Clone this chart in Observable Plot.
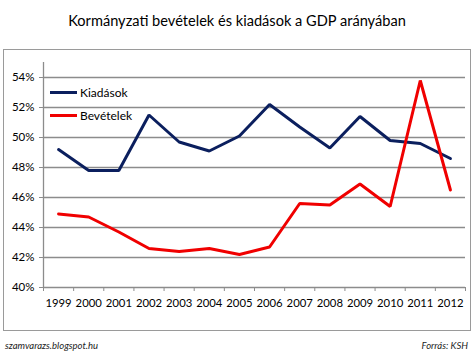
<!DOCTYPE html>
<html>
<head>
<meta charset="utf-8">
<script src="https://cdn.jsdelivr.net/npm/d3@7"></script>
<script src="https://cdn.jsdelivr.net/npm/@observablehq/plot@0.6"></script>
<style>
  html, body { margin: 0; padding: 0; background: #fff; }
  #wrap { position: relative; width: 474px; height: 355px; background: #fff; font-family: Lato, "Open Sans", sans-serif; overflow: hidden; }
  #title { position: absolute; left: 0; top: 12px; width: 474px; text-align: center; font-size: 14.6px; color: #000; }
  #frame { position: absolute; left: 3px; top: 49px; width: 466px; height: 280px; border: 1px solid #9a9a9a; }
  #chart { position: absolute; left: 0; top: 0; }
  .leg { position: absolute; font-size: 12px; color: #000; display: flex; align-items: center; }
  .leg span.sw { display: inline-block; width: 27px; height: 3px; margin-right: 3px; }
  .foot { position: absolute; top: 340px; font-size: 9.5px; font-style: italic; color: #222; }
</style>
</head>
<body>
<div id="wrap">
  <div id="title">Kormányzati bevételek és kiadások a GDP arányában</div>
  <div id="frame"></div>
  <div id="chart"></div>
  <div class="leg" style="left:50px; top:85px;"><span class="sw" style="background:#0b1f5e"></span>Kiadások</div>
  <div class="leg" style="left:50px; top:108px;"><span class="sw" style="background:#f00000"></span>Bevételek</div>
  <div class="foot" style="left:5px;">szamvarazs.blogspot.hu</div>
  <div class="foot" style="right:6px;">Forrás: KSH</div>
</div>
<script>
const years = [1999, 2000, 2001, 2002, 2003, 2004, 2005, 2006, 2007, 2008, 2009, 2010, 2011, 2012];
const kiadasok = [49.2, 47.8, 47.8, 51.5, 49.7, 49.1, 50.1, 52.2, 50.7, 49.3, 51.4, 49.8, 49.6, 48.6];
const bevetelek = [44.9, 44.7, 43.7, 42.6, 42.4, 42.6, 42.2, 42.7, 45.6, 45.5, 46.9, 45.4, 53.8, 46.5];
const yTicks = [40, 42, 44, 46, 48, 50, 52, 54];
const seriesNames = ["Kiadások", "Bevételek"];
const seriesColors = ["#0b1f5e", "#f00000"];

const rows = [];
years.forEach((y, i) => {
  rows.push({year: y, value: kiadasok[i], series: seriesNames[0]});
  rows.push({year: y, value: bevetelek[i], series: seriesNames[1]});
});
const bounds = years.map(y => y - 0.5).concat([years[years.length - 1] + 0.5]);

const chart = Plot.plot({
  width: 474,
  height: 355,
  marginLeft: 43,
  marginRight: 9,
  marginTop: 62,
  marginBottom: 68,
  style: {fontFamily: "Lato, 'Open Sans', sans-serif", fontSize: "11px", background: "transparent", color: "#000"},
  x: {type: "linear", domain: [bounds[0], bounds[bounds.length - 1]], label: null},
  y: {domain: [40, 55], label: null},
  color: {domain: seriesNames, range: seriesColors},
  marks: [
    Plot.gridY(yTicks, {stroke: "#8c8c8c", strokeOpacity: 1, strokeWidth: 1.3}),
    Plot.ruleX([bounds[0]], {stroke: "#8c8c8c", strokeWidth: 1.3}),
    Plot.axisY({ticks: yTicks, tickSize: 4, tickPadding: 5, tickFormat: d => d + "%", stroke: "#8c8c8c", fontSize: 11.5, label: null}),
    Plot.axisX({ticks: bounds, tickSize: 4, tickFormat: () => "", stroke: "#8c8c8c", label: null}),
    Plot.axisX({ticks: years, tickSize: 0, tickPadding: 11, tickFormat: d => String(d), fontSize: 11.3, label: null}),
    Plot.lineY(rows, {x: "year", y: "value", stroke: "series", z: "series", strokeWidth: 3, strokeLinejoin: "miter"})
  ]
});
document.getElementById("chart").appendChild(chart);
</script>
</body>
</html>
